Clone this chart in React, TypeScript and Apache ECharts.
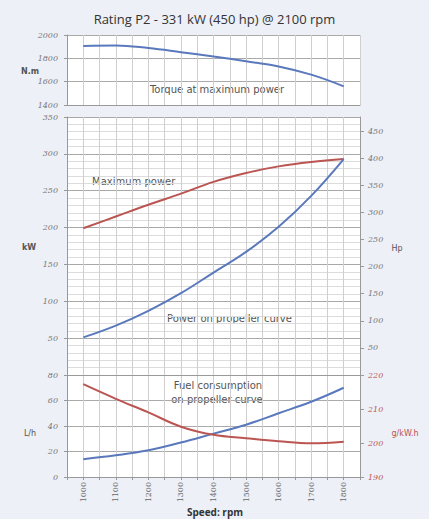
import React, { useEffect, useRef } from "react";
import * as echarts from "echarts";

const rpm = [1000, 1100, 1200, 1300, 1400, 1500, 1600, 1700, 1800];
const torqueNm = [1906, 1910, 1888, 1853, 1816, 1775, 1730, 1660, 1560];
const maxPowerKw = [199, 215, 231, 246, 262, 274, 283, 289, 293];
const propPowerKw = [51, 67, 87, 111, 139, 167, 201, 243, 293];
const fuelLh = [14, 17, 21, 27, 34, 41, 50, 59, 70];
const specGkwh = [217.3, 213, 209, 204.8, 202.4, 201.4, 200.5, 199.9, 200.4];
const hpTicks = [50, 100, 150, 200, 250, 300, 350, 400, 450];

const BLUE = "#5a79bd";
const RED = "#bb5552";
const BG = "#edf0f7";

const pairs = (ys: number[]) => rpm.map((x, i) => [x, ys[i]]);

export default function App() {
  const ref = useRef<HTMLDivElement>(null);
  useEffect(() => {
    if (!ref.current) return;
    const chart = echarts.init(ref.current, null, { renderer: "svg" });
    const gridL = 67, gridR = 69;
    const xBase = (gi: number, showLabels: boolean) => ({
      type: "value",
      gridIndex: gi,
      min: 950,
      max: 1850,
      interval: 50,
      axisLine: { show: true, lineStyle: { color: "#999" } },
      axisTick: { show: showLabels, length: 3, lineStyle: { color: "#999" } },
      splitLine: { show: true, lineStyle: { color: "#cfcfcf", width: 1 } },
      axisLabel: {
        show: showLabels,
        rotate: 90,
        margin: 5,
        fontSize: 8,
        color: "#666",
        fontFamily: "DejaVu Serif",
        formatter: (v: number) => (v % 100 === 0 ? String(v) : ""),
      },
    });
    const leftLabel = {
      fontSize: 8,
      fontStyle: "italic",
      color: "#777",
      margin: 9,
      fontFamily: "DejaVu Serif",
      formatter: (v: number) => String(v),
    };
    const option: any = {
      animation: false,
      backgroundColor: BG,
      title: {
        text: "Rating P2 - 331 kW (450 hp) @ 2100 rpm",
        left: "center",
        top: 7,
        textStyle: { fontSize: 13, fontWeight: "normal", color: "#333", fontFamily: "Open Sans" },
      },
      grid: [
        { left: gridL, right: gridR, top: 35, height: 70, backgroundColor: "#fff", show: true, borderWidth: 0 },
        { left: gridL, right: gridR, top: 117, height: 258, backgroundColor: "#fff", show: true, borderWidth: 0 },
        { left: gridL, right: gridR, top: 375, height: 102, backgroundColor: "#fff", show: true, borderWidth: 0 },
      ],
      xAxis: [xBase(0, false), xBase(1, false), xBase(2, true)],
      yAxis: [
        {
          type: "value", gridIndex: 0, min: 1400, max: 2000, interval: 200,
          axisLine: { show: true, lineStyle: { color: "#999" } },
          axisTick: { show: true, length: 3 },
          splitLine: { lineStyle: { color: "#aaa" } },
          axisLabel: leftLabel,
        },
        {
          type: "value", gridIndex: 1, min: 0, max: 350, interval: 50, splitNumber: 5,
          axisLine: { show: true, lineStyle: { color: "#999" } },
          axisTick: { show: true, length: 3 },
          splitLine: { lineStyle: { color: "#a8a8a8" } },
          minorSplitLine: { show: true, lineStyle: { color: "#dcdcdc" } },
          axisLabel: { ...leftLabel, showMinLabel: false },
        },
        {
          type: "value", gridIndex: 1, position: "right", min: 0, max: 476,
          axisLine: { show: true, lineStyle: { color: "#999" } },
          axisTick: { show: true, length: 4, customValues: hpTicks },
          splitLine: { show: false },
          axisLabel: { ...leftLabel, margin: 8, customValues: hpTicks },
        },
        {
          type: "value", gridIndex: 2, min: 0, max: 80, interval: 20,
          axisLine: { show: true, lineStyle: { color: "#999" } },
          axisTick: { show: true, length: 3 },
          splitLine: { lineStyle: { color: "#aaa" } },
          axisLabel: leftLabel,
        },
        {
          type: "value", gridIndex: 2, position: "right", min: 190, max: 220, interval: 10,
          axisLine: { show: true, lineStyle: { color: "#999" } },
          axisTick: { show: true, length: 4 },
          splitLine: { show: false },
          axisLabel: { ...leftLabel, color: RED, margin: 8 },
        },
      ],
      series: [
        { name: "Torque at maximum power", type: "line", xAxisIndex: 0, yAxisIndex: 0, data: pairs(torqueNm), smooth: 0.4, showSymbol: false, lineStyle: { color: BLUE, width: 2 } },
        { name: "Maximum power", type: "line", xAxisIndex: 1, yAxisIndex: 1, data: pairs(maxPowerKw), smooth: 0.4, showSymbol: false, lineStyle: { color: RED, width: 2 } },
        { name: "Power on propeller curve", type: "line", xAxisIndex: 1, yAxisIndex: 1, data: pairs(propPowerKw), smooth: 0.4, showSymbol: false, lineStyle: { color: BLUE, width: 2 } },
        { name: "Fuel consumption L/h", type: "line", xAxisIndex: 2, yAxisIndex: 3, data: pairs(fuelLh), smooth: 0.4, showSymbol: false, lineStyle: { color: BLUE, width: 2 } },
        { name: "Fuel consumption g/kW.h", type: "line", xAxisIndex: 2, yAxisIndex: 4, data: pairs(specGkwh), smooth: 0.4, showSymbol: false, lineStyle: { color: RED, width: 2 } },
      ],
      graphic: [
        { type: "text", x: 217, y: 89, style: { text: "Torque at maximum power", fontSize: 10, fill: "#555", fontFamily: "DejaVu Sans", align: "center", verticalAlign: "middle" } },
        { type: "text", x: 92, y: 181, style: { text: "Maximum power", fontSize: 10, fill: "#555", fontFamily: "DejaVu Sans", align: "left", verticalAlign: "middle" } },
        { type: "text", x: 167, y: 318, style: { text: "Power on propeller curve", fontSize: 10, fill: "#555", fontFamily: "DejaVu Sans", align: "left", verticalAlign: "middle" } },
        { type: "text", x: 218, y: 385, style: { text: "Fuel consumption", fontSize: 10, fill: "#555", fontFamily: "DejaVu Sans", align: "center", verticalAlign: "middle" } },
        { type: "text", x: 217, y: 399, style: { text: "on propeller curve", fontSize: 10, fill: "#555", fontFamily: "DejaVu Sans", align: "center", verticalAlign: "middle" } },
        { type: "text", x: 30, y: 71, style: { text: "N.m", fontSize: 8, fontWeight: "bold", fill: "#555", fontFamily: "DejaVu Sans", align: "center", verticalAlign: "middle" } },
        { type: "text", x: 29, y: 247, style: { text: "kW", fontSize: 8, fontWeight: "bold", fill: "#555", fontFamily: "DejaVu Sans", align: "center", verticalAlign: "middle" } },
        { type: "text", x: 397, y: 248, style: { text: "Hp", fontSize: 8, fill: "#555", fontFamily: "DejaVu Sans", align: "center", verticalAlign: "middle" } },
        { type: "text", x: 30, y: 433, style: { text: "L/h", fontSize: 8, fill: "#555", fontFamily: "DejaVu Sans", align: "center", verticalAlign: "middle" } },
        { type: "text", x: 405, y: 433, style: { text: "g/kW.h", fontSize: 8, fill: RED, fontFamily: "DejaVu Sans", align: "center", verticalAlign: "middle" } },
        { type: "text", x: 215, y: 512, style: { text: "Speed: rpm", fontSize: 10, fontWeight: "bold", fill: "#333", fontFamily: "Open Sans", align: "center", verticalAlign: "middle" } },
      ],
    };
    chart.setOption(option);
    return () => chart.dispose();
  }, []);
  return (
    <div
      ref={ref}
      style={{ position: "absolute", left: 0, top: 0, width: 429, height: 519 }}
    />
  );
}
